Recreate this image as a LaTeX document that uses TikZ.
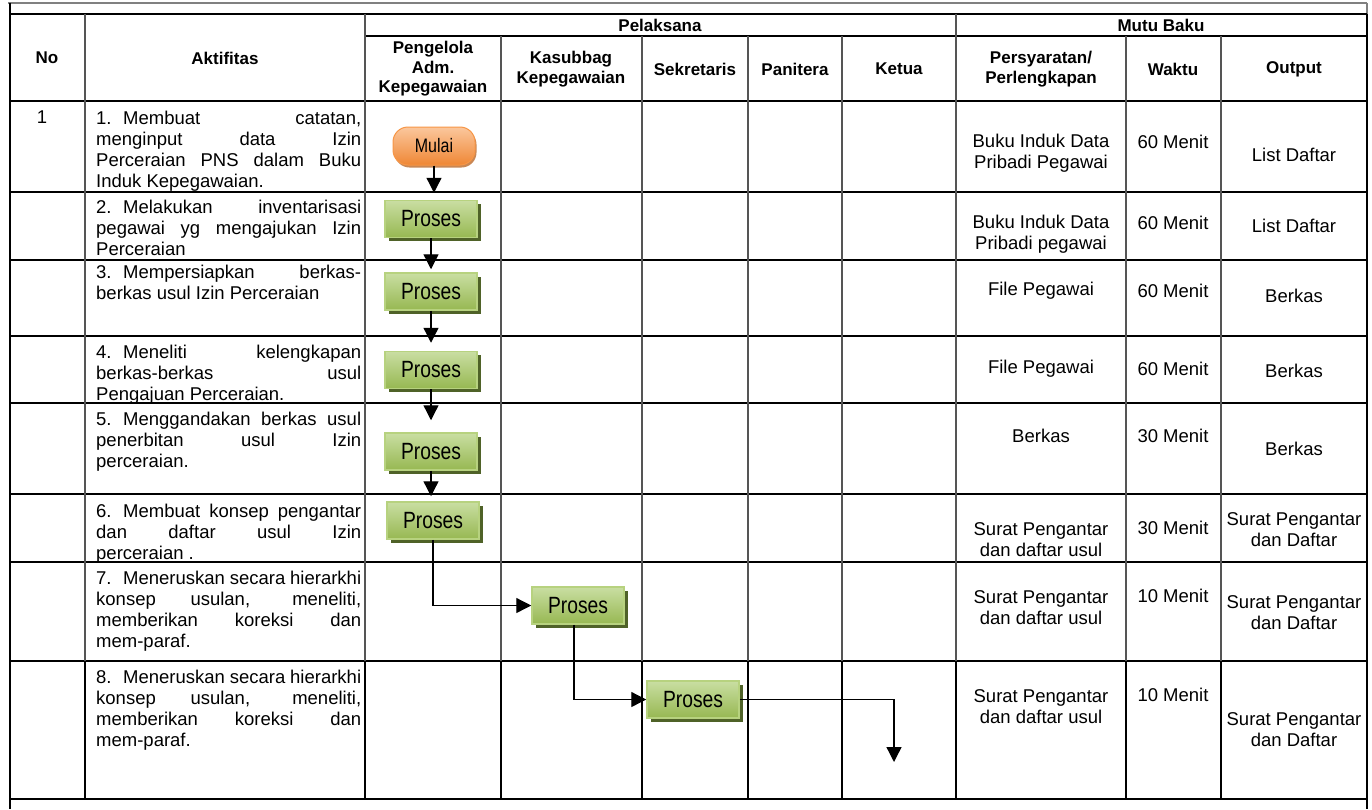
\documentclass[tikz,border=0pt]{standalone}
\usepackage{fontspec}
\setmainfont{Liberation Sans}
\newfontfamily\narrowfont[FakeStretch=0.82]{Liberation Sans}
\usetikzlibrary{arrows.meta,shadows}
\definecolor{pgT}{HTML}{C9DEA2}
\definecolor{pgB}{HTML}{97B852}
\definecolor{pgD}{HTML}{B7D27F}
\definecolor{pgS}{HTML}{4F6228}
\definecolor{moT}{HTML}{FBC79D}
\definecolor{moB}{HTML}{EF8735}
\definecolor{moD}{HTML}{F79646}
\definecolor{moS}{HTML}{B8601C}
\definecolor{gridgray}{HTML}{555555}
\definecolor{framegray}{HTML}{808080}
\begin{document}
\begin{tikzpicture}[x=1pt,y=-1pt,
  hline/.style={line width=2pt,black},
  vline/.style={line width=1.2pt,gridgray},
  vthick/.style={line width=2pt,black},
  hdr/.style={font=\bfseries\fontsize{17}{19.5}\selectfont,align=center,inner sep=0pt},
  cell/.style={font=\fontsize{18.5}{21}\selectfont,align=center,inner sep=0pt},
  akt/.style={font=\fontsize{18.5}{21}\selectfont,text width=265pt,align=justify,inner sep=0pt,anchor=north west},
  proses/.style={rectangle,minimum width=92pt,minimum height=37pt,inner sep=0pt,
    top color=pgT,bottom color=pgB,draw=pgD,line width=1.5pt,
    font=\narrowfont\fontsize{23.5}{26}\selectfont,
    drop shadow={shadow xshift=3.5pt,shadow yshift=-3.5pt,fill=pgS,opacity=1}},
  mulai/.style={rectangle,rounded corners=15pt,minimum width=82pt,minimum height=38pt,inner sep=0pt,
    top color=moT,bottom color=moB,draw=moD,line width=1pt,
    font=\narrowfont\fontsize{19.5}{22}\selectfont,
    drop shadow={shadow xshift=1.5pt,shadow yshift=-2.5pt,fill=moS,opacity=0.75}},
  flow/.style={line width=1.3pt,black,-{Triangle[width=15pt,length=15pt]}}
]
\useasboundingbox (0,0) rectangle (1372,809);
\fill[white] (0,0) rectangle (1372,809);

% outer frame
\draw[line width=1.5pt,framegray] (8,3) -- (1367,3);
\draw[line width=2.5pt,black] (10,2.5) -- (10,809);
\draw[line width=2pt,framegray] (1367,2.5) -- (1367,14);
\draw[line width=1.5pt,black] (1367,14) -- (1367,809);

% horizontal lines
\foreach \yy in {14,101,192,260,336,403,494,562,661,799}
  \draw[hline] (10,\yy) -- (1367,\yy);
\draw[hline] (365,36) -- (1367,36);

% vertical lines (header to row 7)
\draw[vline] (85,14) -- (85,661);
\draw[vline] (365,14) -- (365,661);
\draw[vline] (956,14) -- (956,661);
\foreach \xx in {501,642,748,842,1126,1221}
  \draw[vline] (\xx,36) -- (\xx,661);
% row 8 verticals
\foreach \xx in {85,365,501,642,748,842,956,1126,1221}
  \draw[vthick] (\xx,661) -- (\xx,799);

% header texts
\node[hdr] (hNo) at (47,58) {No};
\node[hdr] (hAkt) at (225,58) {Aktifitas};
\node[hdr] (hPel) at (660,25) {Pelaksana};
\node[hdr] (hMutu) at (1161,25) {Mutu Baku};
\node[hdr] (hPeng) at (433,69) {Pengelola\\Adm.\\Kepegawaian};
\node[hdr] (hKas) at (571,69) {Kasubbag\\Kepegawaian};
\node[hdr] (hSek) at (695,69) {Sekretaris};
\node[hdr] (hPan) at (795,69) {Panitera};
\node[hdr] (hKet) at (899,69) {Ketua};
\node[hdr] (hPers) at (1041,69) {Persyaratan/\\Perlengkapan};
\node[hdr] (hWak) at (1173,69) {Waktu};
\node[hdr] (hOut) at (1294,69) {Output};

% No column
\node[cell] (no1) at (42,117) {1};

% Aktifitas column
\newcommand{\aktnum}[1]{\hangindent=27pt\hangafter=1\noindent\makebox[27pt][l]{#1}}
\node[akt] (a1) at (96,109.5) {\strut\aktnum{1.}Membuat catatan,\linebreak menginput data Izin\linebreak Perceraian PNS dalam Buku\linebreak Induk Kepegawaian.};
\node[akt] (a2) at (96,198.5) {\strut\aktnum{2.}Melakukan inventarisasi\linebreak pegawai yg mengajukan Izin\linebreak Perceraian};
\node[akt] (a3) at (96,263.5) {\strut\aktnum{3.}Mempersiapkan berkas-\linebreak berkas usul Izin Perceraian};
\node[akt] (a4) at (96,343.5) {\strut\aktnum{4.}Meneliti kelengkapan\linebreak berkas-berkas usul\linebreak Pengajuan Perceraian.};
\node[akt] (a5) at (96,410.5) {\strut\aktnum{5.}Menggandakan berkas usul\linebreak penerbitan usul Izin\linebreak perceraian.};
\node[akt] (a6) at (96,502.5) {\strut\aktnum{6.}Membuat konsep pengantar\linebreak dan daftar usul Izin\linebreak perceraian .};
\node[akt] (a7) at (96,569.5) {\strut\aktnum{7.}Meneruskan secara hierarkhi\linebreak konsep usulan, meneliti,\linebreak memberikan koreksi dan\linebreak mem-paraf.};
\node[akt] (a8) at (96,668.5) {\strut\aktnum{8.}Meneruskan secara hierarkhi\linebreak konsep usulan, meneliti,\linebreak memberikan koreksi dan\linebreak mem-paraf.};

% Persyaratan column
\node[cell] (s1) at (1041,153) {Buku Induk Data\\Pribadi Pegawai};
\node[cell] (s2) at (1041,234) {Buku Induk Data\\Pribadi pegawai};
\node[cell] (s3) at (1041,291) {File Pegawai};
\node[cell] (s4) at (1041,369) {File Pegawai};
\node[cell] (s5) at (1041,436) {Berkas};
\node[cell] (s6) at (1041,540) {Surat Pengantar\\dan daftar usul};
\node[cell] (s7) at (1041,608) {Surat Pengantar\\dan daftar usul};
\node[cell] (s8) at (1041,707) {Surat Pengantar\\dan daftar usul};

% Waktu column
\node[cell] (w1) at (1173,142) {60 Menit};
\node[cell] (w2) at (1173,223) {60 Menit};
\node[cell] (w3) at (1173,291) {60 Menit};
\node[cell] (w4) at (1173,369) {60 Menit};
\node[cell] (w5) at (1173,436) {30 Menit};
\node[cell] (w6) at (1173,528) {30 Menit};
\node[cell] (w7) at (1173,596) {10 Menit};
\node[cell] (w8) at (1173,695) {10 Menit};

% Output column
\node[cell] (o1) at (1294,155) {List Daftar};
\node[cell] (o2) at (1294,226) {List Daftar};
\node[cell] (o3) at (1294,296) {Berkas};
\node[cell] (o4) at (1294,371) {Berkas};
\node[cell] (o5) at (1294,449) {Berkas};
\node[cell] (o6) at (1294,530) {Surat Pengantar\\dan Daftar};
\node[cell] (o7) at (1294,613) {Surat Pengantar\\dan Daftar};
\node[cell] (o8) at (1294,730) {Surat Pengantar\\dan Daftar};

% flow nodes
\node[mulai] (m) at (434,146) {Mulai};
\node[proses] (p2) at (431,219) {Proses};
\node[proses] (p3) at (431,291.5) {Proses};
\node[proses] (p4) at (431,370) {Proses};
\node[proses] (p5) at (431,451.5) {Proses};
\node[proses] (p6) at (433,520.5) {Proses};
\node[proses] (p7) at (578,605.5) {Proses};
\node[proses] (p8) at (693,699.5) {Proses};
\coordinate (end) at (894,762);

% connectors
\draw[flow,shorten >=7pt] (m.south) -- (m.south |- p2.north);
\draw[flow,shorten >=3pt] (p2.south) -- (p3.north);
\draw[flow,shorten >=8pt] (p3.south) -- (p4.north);
\draw[flow,shorten >=12pt] (p4.south) -- (p5.north);
\draw[flow,shorten >=5pt] (p5.south) -- (p5.south |- p6.north);
\draw[flow] (p6.south) |- (p7.west);
\draw[flow] ([xshift=-4pt]p7.south) |- (p8.west);
\draw[flow] (p8.east) -| (end);
\end{tikzpicture}
\end{document}
